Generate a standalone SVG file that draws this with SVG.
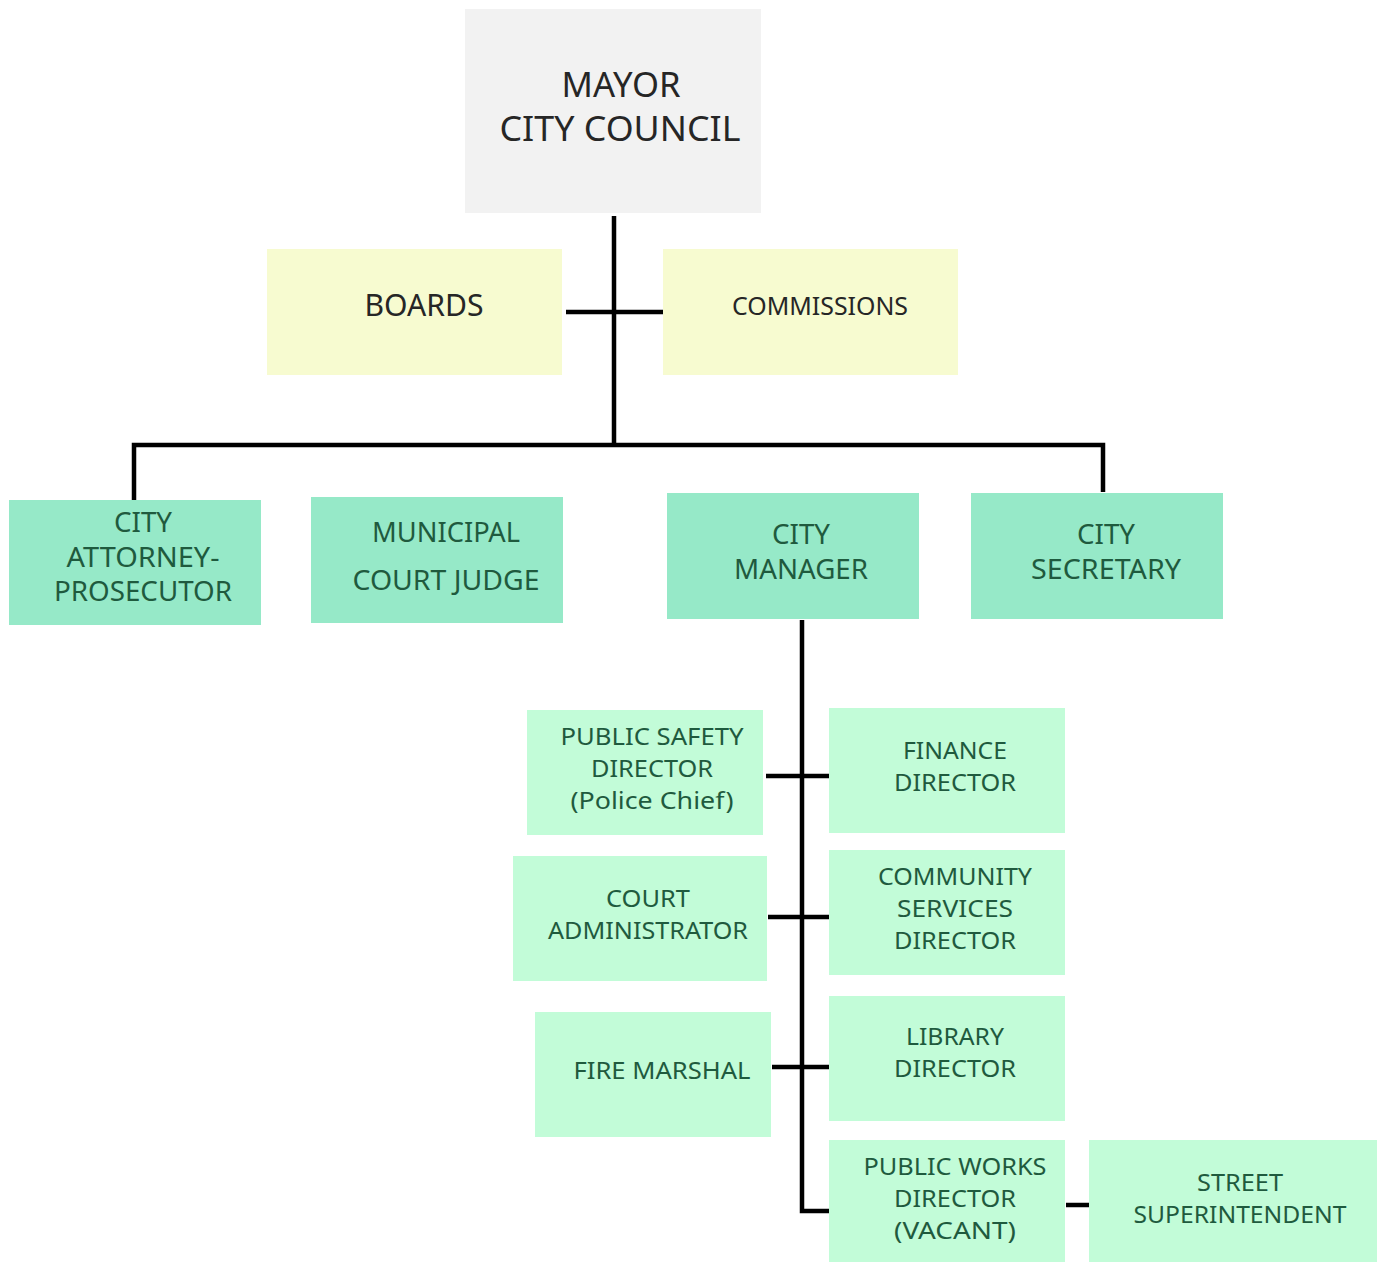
<svg xmlns="http://www.w3.org/2000/svg" width="1383" height="1262" viewBox="0 0 1383 1262">
  <style>
    .t { font-family: "Noto Sans", "Open Sans", "Liberation Sans", sans-serif; text-anchor: middle; }
    .top { fill: #f2f2f2; }
    .adv { fill: #f7fbd0; }
    .dept { fill: #96e9c8; }
    .sub { fill: #c2fcd8; }
    .dk { fill: #262626; }
    .gr { fill: #1f5a3e; }
    .l2 { font-size: 27px; }
    .l3 { font-size: 24px; }
    .wire { stroke: #000; stroke-width: 4.5; fill: none; stroke-linejoin: miter; }
  </style>
  <rect width="1383" height="1262" fill="#ffffff"/>

  <!-- connectors -->
  <g id="connectors" class="wire">
    <path d="M614 216 V446"/>
    <path d="M566 312 H665"/>
    <path d="M134 500 V445 H1103 V492"/>
    <path d="M802 620 V1211 H830"/>
    <path d="M766 776 H829"/>
    <path d="M768 917 H829"/>
    <path d="M772 1067 H829"/>
    <path d="M1066 1205 H1089"/>
  </g>

  <!-- governing body -->
  <g id="mayor-council">
    <rect class="top" x="465" y="9" width="296" height="204"/>
    <text class="t dk" x="621" y="97" font-size="35" textLength="119" lengthAdjust="spacingAndGlyphs">MAYOR</text>
    <text class="t dk" x="620" y="141" font-size="35" textLength="241" lengthAdjust="spacingAndGlyphs">CITY COUNCIL</text>
  </g>

  <g id="boards">
    <rect class="adv" x="267" y="249" width="295" height="126"/>
    <text class="t dk" x="424" y="316" font-size="30" textLength="119" lengthAdjust="spacingAndGlyphs">BOARDS</text>
  </g>

  <g id="commissions">
    <rect class="adv" x="663" y="249" width="295" height="126"/>
    <text class="t dk" x="820" y="315" font-size="26" textLength="176" lengthAdjust="spacingAndGlyphs">COMMISSIONS</text>
  </g>

  <!-- appointed officials -->
  <g id="city-attorney">
    <rect class="dept" x="9" y="500" width="252" height="125"/>
    <text class="t gr l2" x="143" y="532" textLength="58" lengthAdjust="spacingAndGlyphs">CITY</text>
    <text class="t gr l2" x="143" y="567" textLength="153" lengthAdjust="spacingAndGlyphs">ATTORNEY-</text>
    <text class="t gr l2" x="143" y="601" textLength="178" lengthAdjust="spacingAndGlyphs">PROSECUTOR</text>
  </g>

  <g id="municipal-judge">
    <rect class="dept" x="311" y="497" width="252" height="126"/>
    <text class="t gr l2" x="446" y="542" textLength="148" lengthAdjust="spacingAndGlyphs">MUNICIPAL</text>
    <text class="t gr l2" x="446" y="590" textLength="187" lengthAdjust="spacingAndGlyphs">COURT JUDGE</text>
  </g>

  <g id="city-manager">
    <rect class="dept" x="667" y="493" width="252" height="126"/>
    <text class="t gr l2" x="801" y="544" textLength="58" lengthAdjust="spacingAndGlyphs">CITY</text>
    <text class="t gr l2" x="801" y="579" textLength="134" lengthAdjust="spacingAndGlyphs">MANAGER</text>
  </g>

  <g id="city-secretary">
    <rect class="dept" x="971" y="493" width="252" height="126"/>
    <text class="t gr l2" x="1106" y="544" textLength="58" lengthAdjust="spacingAndGlyphs">CITY</text>
    <text class="t gr l2" x="1106" y="579" textLength="150" lengthAdjust="spacingAndGlyphs">SECRETARY</text>
  </g>

  <!-- departments under the city manager -->
  <g id="public-safety">
    <rect class="sub" x="527" y="710" width="236" height="125"/>
    <text class="t gr l3" x="652" y="745" textLength="183" lengthAdjust="spacingAndGlyphs">PUBLIC SAFETY</text>
    <text class="t gr l3" x="652" y="777" textLength="122" lengthAdjust="spacingAndGlyphs">DIRECTOR</text>
    <text class="t gr l3" x="652" y="809" textLength="163" lengthAdjust="spacingAndGlyphs">(Police Chief)</text>
  </g>

  <g id="finance">
    <rect class="sub" x="829" y="708" width="236" height="125"/>
    <text class="t gr l3" x="955" y="759" textLength="104" lengthAdjust="spacingAndGlyphs">FINANCE</text>
    <text class="t gr l3" x="955" y="791" textLength="122" lengthAdjust="spacingAndGlyphs">DIRECTOR</text>
  </g>

  <g id="court-admin">
    <rect class="sub" x="513" y="856" width="254" height="125"/>
    <text class="t gr l3" x="648" y="907" textLength="84" lengthAdjust="spacingAndGlyphs">COURT</text>
    <text class="t gr l3" x="648" y="939" textLength="200" lengthAdjust="spacingAndGlyphs">ADMINISTRATOR</text>
  </g>

  <g id="community-services">
    <rect class="sub" x="829" y="850" width="236" height="125"/>
    <text class="t gr l3" x="955" y="885" textLength="154" lengthAdjust="spacingAndGlyphs">COMMUNITY</text>
    <text class="t gr l3" x="955" y="917" textLength="116" lengthAdjust="spacingAndGlyphs">SERVICES</text>
    <text class="t gr l3" x="955" y="949" textLength="122" lengthAdjust="spacingAndGlyphs">DIRECTOR</text>
  </g>

  <g id="fire-marshal">
    <rect class="sub" x="535" y="1012" width="236" height="125"/>
    <text class="t gr l3" x="662" y="1079" textLength="177" lengthAdjust="spacingAndGlyphs">FIRE MARSHAL</text>
  </g>

  <g id="library">
    <rect class="sub" x="829" y="996" width="236" height="125"/>
    <text class="t gr l3" x="955" y="1045" textLength="98" lengthAdjust="spacingAndGlyphs">LIBRARY</text>
    <text class="t gr l3" x="955" y="1077" textLength="122" lengthAdjust="spacingAndGlyphs">DIRECTOR</text>
  </g>

  <g id="public-works">
    <rect class="sub" x="829" y="1140" width="236" height="122"/>
    <text class="t gr l3" x="955" y="1175" textLength="183" lengthAdjust="spacingAndGlyphs">PUBLIC WORKS</text>
    <text class="t gr l3" x="955" y="1207" textLength="122" lengthAdjust="spacingAndGlyphs">DIRECTOR</text>
    <text class="t gr l3" x="955" y="1239" textLength="122" lengthAdjust="spacingAndGlyphs">(VACANT)</text>
  </g>

  <g id="street-superintendent">
    <rect class="sub" x="1089" y="1140" width="288" height="122"/>
    <text class="t gr l3" x="1240" y="1191" textLength="86" lengthAdjust="spacingAndGlyphs">STREET</text>
    <text class="t gr l3" x="1240" y="1223" textLength="213" lengthAdjust="spacingAndGlyphs">SUPERINTENDENT</text>
  </g>
</svg>
